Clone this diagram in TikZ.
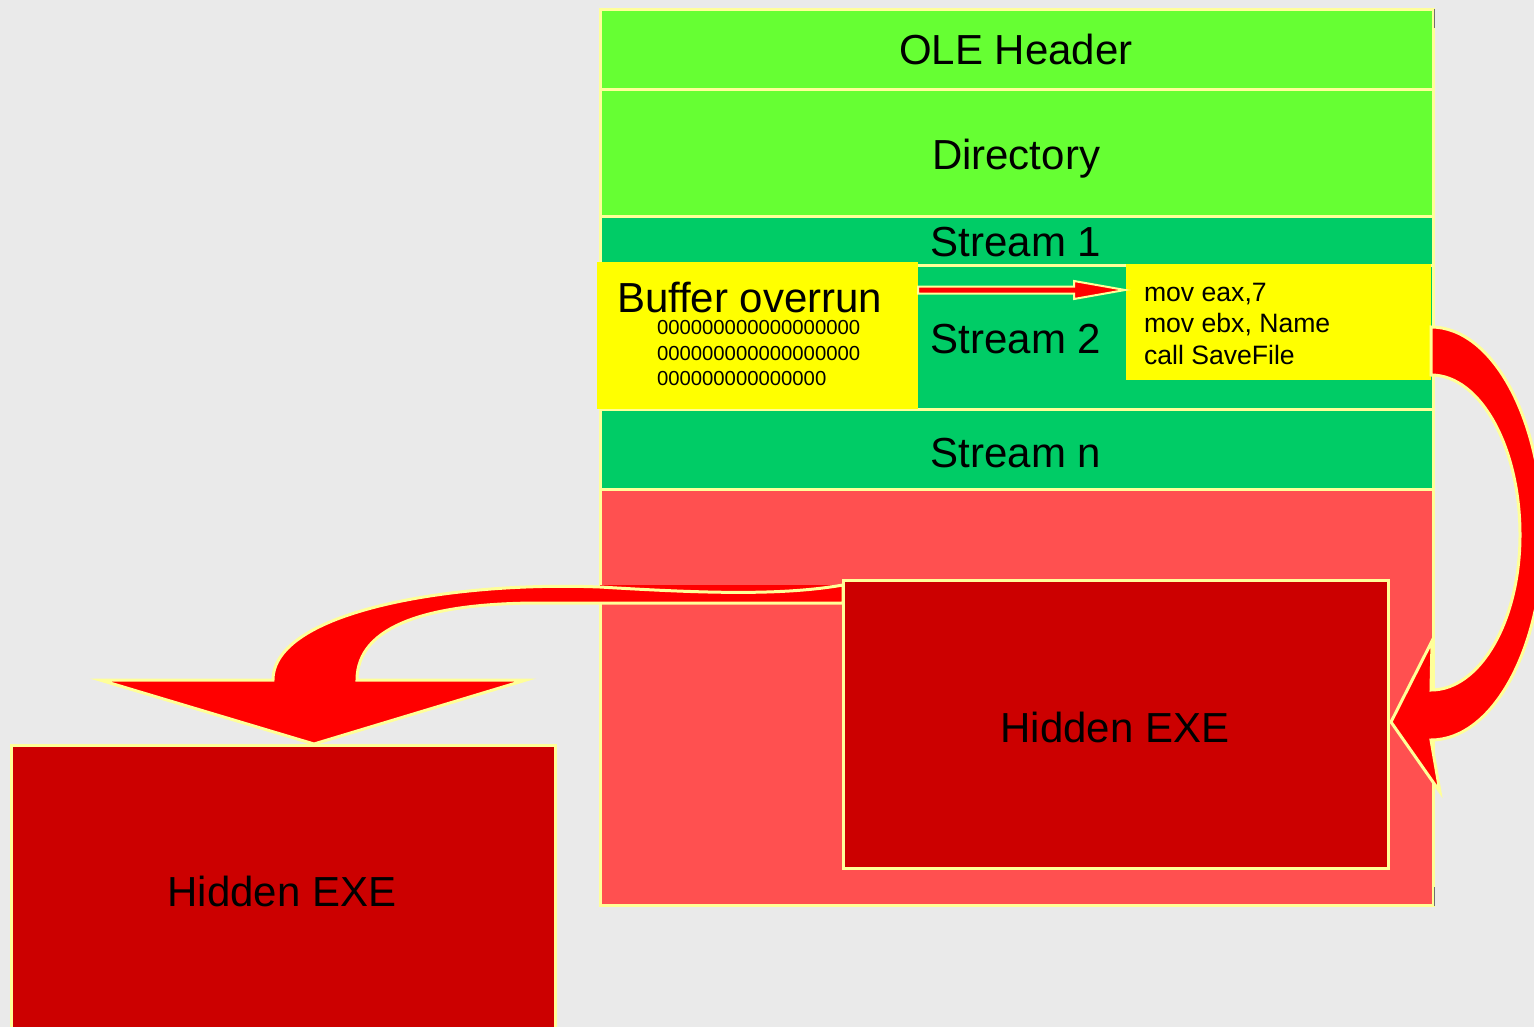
\documentclass[tikz,border=0pt]{standalone}
\usepackage{fontspec}
\setmainfont{Liberation Sans}[Ligatures=NoCommon]
\usetikzlibrary{calc}
\definecolor{bg}{HTML}{EAEAEA}
\definecolor{edge}{HTML}{FFFF99}
\definecolor{olegreen}{HTML}{66FF33}
\definecolor{streamgreen}{HTML}{00CC66}
\definecolor{exearea}{HTML}{FF5050}
\definecolor{exered}{HTML}{CC0000}
\definecolor{hilite}{HTML}{FFFF00}
\definecolor{arrowred}{HTML}{FF0000}
\definecolor{tickgray}{HTML}{707070}
\begin{document}
\begin{tikzpicture}[x=1pt,y=-1pt,
  blk/.style={rectangle, draw=edge, line width=3pt, inner sep=0pt, outer sep=0pt, anchor=north west},
  plain/.style={rectangle, draw=none, inner sep=0pt, outer sep=0pt, anchor=north west},
  lbl/.style={inner sep=0pt, outer sep=0pt, anchor=base, font=\fontsize{42}{50}\selectfont},
  zeros/.style={inner sep=0pt, outer sep=0pt, anchor=base west, font=\fontsize{20.3}{25}\selectfont},
  code/.style={inner sep=0pt, outer sep=0pt, anchor=base west, font=\fontsize{26.6}{32}\selectfont},
  bigarrow/.style={fill=arrowred, draw=edge, line width=3pt, line join=miter},
  tick/.style={draw=tickgray, line width=1.5pt}]

\useasboundingbox (0,0) rectangle (1534,1027);
\fill[bg] (0,0) rectangle (1534,1027);
\clip (0,0) rectangle (1534,1027);

% file layout column
\node[blk, fill=olegreen, minimum width=833pt, minimum height=80pt] (hdr) at (600,10) {};
\node[blk, fill=olegreen, minimum width=833pt, minimum height=127pt] (dir) at (600,90) {};
\node[blk, fill=streamgreen, minimum width=833pt, minimum height=48pt] (s1) at (600,217) {};
\node[blk, fill=streamgreen, minimum width=833pt, minimum height=144pt] (s2) at (600,265) {};
\node[blk, fill=streamgreen, minimum width=833pt, minimum height=80pt] (sn) at (600,409) {};
\node[blk, fill=exearea, minimum width=833pt, minimum height=416pt] (area) at (600,489) {};

% overflowing buffer and injected code
\node[plain, fill=hilite, minimum width=321pt, minimum height=147pt] (buf) at (597,262) {};
\node[plain, fill=hilite, minimum width=305pt, minimum height=116pt] (code) at (1126,264) {};

% jump from the overrun into the code
\coordinate (ja) at ($(buf.north east)+(0,28)$);
\coordinate (jb) at ($(code.north west)+(-1,26)$);
\draw[fill=arrowred, draw=edge, line width=2pt]
  ($(ja)+(0,-3.5)$) -- ($(jb)+(-51,-3.5)$) -- ($(jb)+(-51,-9)$) -- (jb)
  -- ($(jb)+(-51,9)$) -- ($(jb)+(-51,3.5)$) -- ($(ja)+(0,3.5)$) -- cycle;

% embedded executable
\node[blk, fill=exered, minimum width=545pt, minimum height=288pt] (exe) at (843,580) {};

% curved arrow from the code down to the embedded executable
\draw[bigarrow]
  (code.east |- 0,327)
  arc[start angle=90, end angle=0, x radius=112pt, y radius=208pt]
  arc[start angle=0, end angle=-90, x radius=112pt, y radius=205pt]
  -- (1440,792) -- ($(exe.east |- 0,722)+(3,0)$) -- (1432,641) -- (1431,690)
  arc[start angle=-90, end angle=0, x radius=89pt, y radius=155pt]
  arc[start angle=0, end angle=90, x radius=89pt, y radius=160pt]
  -- cycle;

% extracted executable
\node[blk, fill=exered, minimum width=544pt, minimum height=320pt] (out) at (11,745) {};

% curved arrow from the embedded executable out to the dropped file
\fill[arrowred] (600,585) rectangle (exe.west |- 0,603);
\draw[bigarrow]
  (exe.west |- 0,585)
  .. controls (780,596) and (700,593) .. (600,587)
  .. controls (450,581) and (273,612) .. (273,680)
  -- (100,680) -- ($(out.north west)+(303,-1)$) -- (526,680) -- (357,680)
  .. controls (357,625) and (430,603) .. (540,603)
  -- (exe.west |- 0,603) -- cycle;

% labels
\node[lbl] (thdr) at (1016,65) {OLE Header};
\node[lbl] (tdir) at (1016,170) {Directory};
\node[lbl] (ts1) at (1016,257) {Stream 1};
\node[lbl] (ts2) at (1016,353) {Stream 2};
\node[lbl] (tsn) at (1016,467) {Stream n};
\node[lbl, anchor=base west] (tbuf) at (617,312) {Buffer overrun};
\node[zeros] (z1) at (657,334) {000000000000000000};
\node[zeros] (z2) at (657,360) {000000000000000000};
\node[zeros] (z3) at (657,385) {000000000000000};
\node[code] (c1) at (1144,301) {mov eax,7};
\node[code] (c2) at (1144,332) {mov ebx, Name};
\node[code] (c3) at (1144,364) {call SaveFile};
\node[lbl] (texe) at (1115,742) {Hidden EXE};
\node[lbl] (tout) at (282,906) {Hidden EXE};

% corner ticks on the column's right edge
\draw[tick] (1434.5,9) -- (1434.5,28);
\draw[tick] (1434.5,887) -- (1434.5,906);
\end{tikzpicture}
\end{document}
